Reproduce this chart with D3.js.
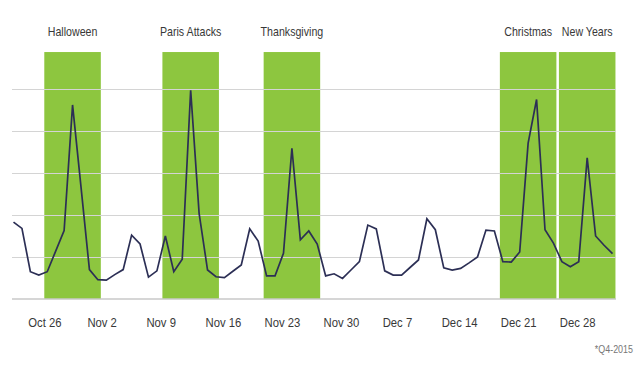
<!DOCTYPE html>
<html>
<head>
<meta charset="utf-8">
<script src="https://cdn.jsdelivr.net/npm/d3@7"></script>
<style>
	body { margin: 0; background: #fff; }
	text { font-family: "Liberation Sans", Arial, sans-serif; }
</style>
</head>
<body>
<div id="chart"></div>
<script>
// daily values, Oct 24 2015 - Jan 3 2016
const startDay = "2015-10-24";
const values = [
	1.83, 1.68, 0.65, 0.57, 0.65, 1.14, 1.63, 4.62, 2.67, 0.70,
	0.46, 0.45, 0.58, 0.70, 1.52, 1.31, 0.52, 0.67, 1.50, 0.65,
	0.95, 4.97, 2.04, 0.69, 0.53, 0.51, 0.66, 0.81, 1.67, 1.38,
	0.55, 0.55, 1.09, 3.59, 1.41, 1.62, 1.31, 0.55, 0.60, 0.49,
	0.69, 0.89, 1.76, 1.67, 0.67, 0.57, 0.57, 0.75, 0.93, 1.91,
	1.65, 0.74, 0.69, 0.73, 0.86, 1.00, 1.64, 1.62, 0.89, 0.88,
	1.12, 3.71, 4.75, 1.65, 1.33, 0.89, 0.77, 0.89, 3.36, 1.50,
	1.28, 1.08
];

const eventNames = ["Halloween", "Paris Attacks", "Thanksgiving", "Christmas", "New Years"];
const eventDays = ["2015-10-31", "2015-11-14", "2015-11-26", "2015-12-24", "2015-12-31"];
const bandValue = 5.88;

const tickDays = ["2015-10-26", "2015-11-02", "2015-11-09", "2015-11-16", "2015-11-23",
	"2015-11-30", "2015-12-07", "2015-12-14", "2015-12-21", "2015-12-28"];
const gridValues = [1, 2, 3, 4, 5];
const note = "*Q4-2015";

const parse = d3.timeParse("%Y-%m-%d");
const start = parse(startDay);
const data = values.map((v, i) => ({date: d3.timeDay.offset(start, i), value: v}));

const width = 640, height = 368;
const squeeze = "scale(0.85,1)";

let x = d3.scaleTime()
	.domain(d3.extent(data, d => d.date))
	.range([13.5, 612.5]);

let y = d3.scaleLinear()
	.domain([0, 6])
	.range([299, 47]);

let svg = d3.select("#chart")
	.append("svg")
	.attr("width", width)
	.attr("height", height);

// event bands
const dayW = x(d3.timeDay.offset(start, 1)) - x(start);
const bandW = dayW * 6.7;
const events = eventNames.map((n, i) => ({name: n, date: parse(eventDays[i])}));

svg.append("g")
	.selectAll("rect")
	.data(events)
	.enter().append("rect")
	.attr("x", d => x(d.date) - bandW / 2)
	.attr("width", bandW)
	.attr("y", y(bandValue))
	.attr("height", y(0) - y(bandValue))
	.attr("fill", "#8dc63f");

svg.append("g")
	.selectAll("text")
	.data(events)
	.enter().append("text")
	.attr("transform", d => "translate(" + x(d.date) + ",35.5) " + squeeze)
	.attr("text-anchor", "middle")
	.attr("font-size", 12.5)
	.attr("fill", "#383838")
	.text(d => d.name);

// grid lines
const yAxis = d3.axisLeft(y)
	.tickValues(gridValues)
	.tickSize(-(616 - 12))
	.tickFormat("");

svg.append("g")
	.attr("transform", "translate(12,0)")
	.call(yAxis)
	.call(g => g.select(".domain").remove())
	.call(g => g.selectAll(".tick line").attr("stroke", "#d4d4d4").attr("stroke-width", 1.2));

// baseline
svg.append("line")
	.attr("x1", 12).attr("x2", 616)
	.attr("y1", y(0)).attr("y2", y(0))
	.attr("stroke", "#c8c8c8")
	.attr("stroke-width", 1.5);

// line
let valueLine = d3.line()
	.x(d => x(d.date))
	.y(d => y(d.value));

svg.append("path")
	.datum(data)
	.attr("fill", "none")
	.attr("stroke", "#2c2f55")
	.attr("stroke-width", 1.7)
	.attr("d", valueLine);

// x labels
const xAxis = d3.axisBottom(x)
	.tickValues(tickDays.map(parse))
	.tickSize(0)
	.tickFormat(d3.timeFormat("%b %-d"));

svg.append("g")
	.attr("transform", "translate(0," + y(0) + ")")
	.call(xAxis)
	.call(g => g.select(".domain").remove())
	.call(g => g.selectAll(".tick text")
		.attr("text-anchor", "start")
		.attr("x", -3)
		.attr("y", 28)
		.attr("dy", 0)
		.attr("transform", squeeze)
		.attr("font-size", 13.3)
		.attr("fill", "#383838"));

svg.append("text")
	.attr("transform", "translate(633,353) " + squeeze)
	.attr("text-anchor", "end")
	.attr("font-size", 10.5)
	.attr("fill", "#777")
	.text(note);
</script>
</body>
</html>
